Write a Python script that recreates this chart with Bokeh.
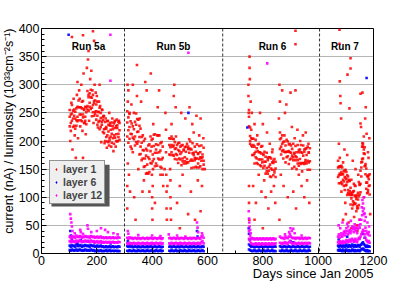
import numpy as np
from bokeh.plotting import figure
from bokeh.models import Range1d, FixedTicker, Legend, LegendItem, Span, BoxAnnotation, Title
from bokeh.core.properties import value
from bokeh.embed import file_html
from bokeh.resources import INLINE

# ------------------------------------------------------------------ data
day_5a = [102,106,110,114,118,122,126,130,134,138,142,146,150,154,158,162,166,170,174,178,182,186,190,194,198,202,206,210,214,218,222,226,230,234,238,242,246,250,254,258,262,266,270,274,278,282]
day_5b1 = [310,314,318,322,326,330,334,338,342,346,350,354,358,362,366,370,374,378,382,386,390,394,398,402,406,410,414,418,422,426,430,434,438]
day_5b2 = [462,466,470,474,478,482,486,490,494,498,502,506,510,514,518,522,526,530,534,538,542,546,550,554,558,562,566,570,574,578,582,586]
day_61 = [750,754,758,762,766,770,774,778,782,786,790,794,798,802,806,810,814,818,822,826,830,834,838,842,846]
day_62 = [862,866,870,874,878,882,886,890,894,898,902,906,910,914,918,922,926,930,934,938,942,946,950,954,958,962,966,970]
day_7 = [1072,1075,1078,1081,1084,1087,1090,1093,1096,1099,1102,1105,1108,1111,1114,1117,1120,1123,1126,1129,1132,1135,1138,1141,1144,1147,1150,1153,1156,1159,1162,1165,1168,1171,1174,1177,1180,1183,1186]

# layer 1 (red) dense band, three samples per day (lower / middle / upper)
r5a_lo = [226,218,236,225,227,222,227,235,237,247,237,235,242,232,236,230,256,254,261,257,244,251,245,248,238,229,234,221,225,229,216,214,200,207,199,198,201,208,197,205,195,206,200,199,207,202]
r5a_mid = [243,232,249,240,245,240,237,243,260,260,247,258,247,255,243,251,262,278,268,278,259,264,267,252,253,245,251,236,241,234,237,221,222,222,210,217,205,220,213,221,210,223,212,223,213,219]
r5a_hi = [255,247,264,254,256,252,258,261,272,275,260,270,271,257,261,260,289,282,285,291,277,282,271,272,265,270,252,259,250,256,242,244,234,225,235,229,228,227,233,226,231,236,226,228,234,232]
r5b1_lo = [208,197,204,190,186,180,203,192,198,195,199,176,177,166,169,154,155,142,143,142,145,161,160,164,168,155,160,156,169,167,154,152,140]
r5b1_mid = [233,219,225,213,212,206,221,208,229,216,217,207,190,197,184,183,169,174,158,171,168,182,190,176,191,179,185,179,193,180,183,167,170]
r5b1_hi = [253,242,248,235,231,226,250,234,249,239,238,227,222,207,210,200,204,186,183,192,194,208,202,204,211,212,194,210,210,210,196,198,190]
r5b2_lo = [176,175,180,175,174,168,177,167,161,169,167,157,164,160,164,160,162,162,179,165,152,165,153,166,154,153,160,153,155,165,150,158]
r5b2_mid = [193,189,193,190,192,186,187,175,184,182,177,180,169,183,171,181,168,186,186,186,167,178,175,170,169,169,177,168,171,170,171,165]
r5b2_hi = [205,204,208,204,203,198,208,193,196,197,190,192,193,185,189,190,195,190,203,199,185,196,179,190,181,194,178,191,180,192,176,188]
r61_lo = [226,195,192,175,175,160,171,161,159,167,157,155,162,152,156,142,146,142,147,137,136,149,139,144,136]
r61_mid = [243,209,205,190,193,178,181,169,182,180,167,178,167,175,163,163,152,166,154,158,151,162,161,148,151]
r61_hi = [255,224,220,204,204,190,202,187,194,195,180,190,191,177,181,172,179,170,171,171,169,180,165,168,163]
r62_lo = [186,176,182,169,181,162,171,173,159,167,169,151,166,154,166,150,160,156,161,159,146,161,159,162,160,149,162,149]
r62_mid = [203,190,195,184,199,180,181,181,182,180,179,174,171,177,173,171,166,180,168,180,161,174,181,166,175,165,179,164]
r62_hi = [215,205,210,198,210,192,202,199,194,195,192,186,195,179,191,180,193,184,185,193,179,192,185,186,187,190,180,187]
r7_lo = [136,125,142,125,127,123,131,120,113,121,122,104,108,106,104,87,98,80,86,90,88,89,75,80,81,86,105,109,137,163,169,178,155,141,115,107,109,120,105]
r7_mid = [153,139,155,140,145,141,141,128,136,134,132,127,113,129,111,108,104,104,93,111,103,102,97,84,96,102,122,124,153,168,190,185,177,156,126,126,113,132,121]
r7_hi = [165,154,170,154,156,153,162,146,148,149,145,139,137,131,129,117,131,108,110,124,121,120,101,104,108,127,123,147,162,190,195,208,189,159,151,138,136,139,141]

# layer 1 (red) scattered points
r_out_day = [104,108,112,116,120,124,128,132,136,140,144,148,152,156,160,164,168,172,176,180,184,188,192,196,200,204,208,212,216,220,224,228,232,236,240,244,248,252,256,260,264,268,272,276,280,110,130,150,170,190,210,150,186,120,245,
             310,310,311,312,312,314,316,318,320,325,330,335,340,345,350,355,360,365,370,380,390,399,400,400,401,402,403,404,410,420,430,440,445,448,450,450,451,452,452,453,455,465,466,466,467,468,470,478,480,485,490,500,505,510,520,530,540,545,550,555,560,565,570,575,580,585,590,395,375,345,425,535,575,500,
             748,748,749,750,750,751,752,752,753,754,756,760,765,770,775,780,785,790,795,800,805,810,815,820,825,830,835,840,845,858,860,862,865,870,875,880,885,890,918,900,905,910,915,920,925,930,935,940,945,950,955,960,965,968,918,918,860,770,800,
             1077,1077,1078,1080,1081,1083,1106,1113,1117,1117,1153,1153,1160,1160,1170,1175,1180,1185,1090,1100,1110,1120,1130,1140,1150,1165,1188,1075,1095,1105,1125,1135,1145,1155,1172,1182,1084,1098,1142]
r_out_val = [200,268,185,275,210,170,282,205,290,226,300,218,320,232,212,330,345,236,310,325,290,232,300,286,280,224,270,262,198,255,245,196,240,188,236,192,232,190,240,182,234,190,238,200,236,385,305,388,360,378,300,170,395,160,250,
             120,80,300,270,160,290,140,250,110,265,300,100,60,280,150,240,270,110,130,290,110,140,100,80,60,120,150,230,90,260,140,120,150,250,220,180,140,110,80,60,120,150,130,100,80,60,230,280,300,260,90,120,250,140,240,70,110,230,215,60,245,130,210,75,120,205,150,320,305,335,290,260,240,45,
             300,280,250,120,90,60,330,350,310,200,270,250,120,230,90,210,140,250,110,230,130,100,215,80,195,110,185,120,90,240,60,270,140,290,120,250,265,100,396,286,225,110,205,80,220,140,200,120,210,100,215,130,195,90,372,290,300,60,45,
             398,373,306,280,267,240,318,258,347,329,284,231,286,196,240,213,180,205,60,70,55,45,65,50,60,100,70,195,185,175,165,150,140,225,260,170,110,90,40]

# layer 6 (blue) band: upper / lower values
b5a_hi = [14,12,15,13,14,12,16,14,13,15,14,12,14,13,15,14,13,14,12,15,14,13,14,12,13,14,12,13,14,12,13,11,12,13,11,12,13,11,12,13,11,12,12,11,13,12]
b5a_lo = [6,5,7,6,5,6,7,5,6,7,6,5,6,5,7,6,5,6,5,7,6,5,6,4,5,6,4,5,6,4,5,4,5,6,4,5,6,4,5,5,4,5,5,4,5,4]
b5b1_hi = [13,12,14,12,13,11,12,13,12,11,13,12,11,12,13,12,11,12,13,11,12,13,12,11,12,13,12,11,12,13,12,11,12]
b5b1_lo = [5,4,6,5,4,5,6,4,5,4,6,5,4,5,6,4,5,4,6,5,4,5,6,4,5,4,6,5,4,5,6,4,5]
b5b2_hi = [12,13,11,12,13,12,11,12,13,11,12,13,12,11,12,13,12,11,12,13,11,12,13,12,11,12,13,12,11,12,13,12]
b5b2_lo = [5,4,6,5,4,5,6,4,5,4,6,5,4,5,6,4,5,4,6,5,4,5,6,4,5,4,6,5,4,5,6,4]
b61_hi = [16,14,12,13,12,11,12,13,12,11,12,13,12,11,12,13,12,11,12,13,12,11,12,13,12]
b61_lo = [7,6,5,4,5,6,4,5,4,6,5,4,5,6,4,5,4,6,5,4,5,6,4,5,4]
b62_hi = [13,12,11,12,13,12,11,12,13,12,11,12,13,12,11,12,13,12,11,12,13,12,11,12,13,12,11,12]
b62_lo = [5,4,6,5,4,5,6,4,5,4,6,5,4,5,6,4,5,4,6,5,4,5,6,4,5,4,6,5]
b7_hi = [14,12,15,13,14,12,15,13,12,14,16,13,12,15,14,12,13,16,14,12,15,14,12,13,15,14,12,15,16,18,20,17,15,13,12,14,12,13,12]
b7_lo = [6,5,7,5,6,4,7,5,4,6,7,5,4,6,5,4,5,7,6,4,6,5,4,5,6,5,4,6,7,8,9,7,6,5,4,6,4,5,4]
b_out_day = [104,106,110,142,168,215,130,190,250,98, 312,562,564,400,500,531, 749,750,752,900,910,744, 1074,1105,1130,1162,1168,1175]
b_out_val = [40,32,25,24,22,20,18,20,18,389, 22,40,30,18,18,250, 45,35,25,22,20,224, 25,30,22,35,28,312]

# layer 12 (magenta) band: upper / lower values
m5a_hi = [30,28,31,29,30,28,32,30,29,31,30,28,30,29,31,30,29,30,28,31,30,29,30,28,29,30,28,29,30,28,29,27,28,29,27,28,29,27,28,29,27,28,28,27,29,28]
m5a_lo = [22,20,23,21,22,20,23,21,22,23,22,20,22,21,23,22,21,22,20,23,22,21,22,19,21,22,19,21,22,19,21,19,20,21,19,20,21,19,20,21,19,20,20,19,21,20]
m5b1_hi = [28,26,29,27,28,26,27,28,27,26,28,27,26,27,28,27,26,27,28,26,27,28,27,26,27,28,27,26,27,28,27,26,27]
m5b1_lo = [18,17,19,18,17,18,19,17,18,17,19,18,17,18,19,17,18,17,19,18,17,18,19,17,18,17,19,18,17,18,19,17,18]
m5b2_hi = [27,28,26,27,28,27,26,27,28,26,27,28,27,26,27,28,27,26,27,28,26,27,28,27,26,27,28,27,26,30,32,28]
m5b2_lo = [18,17,19,18,17,18,19,17,18,17,19,18,17,18,19,17,18,17,19,18,17,18,19,17,18,17,19,18,17,20,22,18]
m61_hi = [40,32,28,26,27,25,26,27,25,26,27,25,26,27,25,26,27,25,26,27,25,26,27,25,26]
m61_lo = [26,22,18,17,16,17,18,16,17,18,16,17,18,16,17,18,16,17,18,16,17,18,16,17,18]
m62_hi = [30,28,27,28,26,30,28,27,30,34,30,28,27,28,26,28,27,28,26,27,28,26,27,28,26,27,28,27]
m62_lo = [19,18,17,19,18,20,18,17,20,22,19,18,17,19,18,17,18,19,17,18,19,17,18,19,17,18,19,18]
m7_hi = [30,34,28,32,36,30,34,38,32,36,45,40,34,38,42,36,40,48,44,38,42,46,40,36,44,50,46,52,60,68,75,70,58,46,40,36,34,38,32]
m7_lo = [20,18,22,19,21,18,22,20,19,21,24,22,20,23,25,21,23,26,24,21,24,26,22,20,25,28,26,30,34,38,42,40,34,28,24,22,20,22,19]
m_out_day = [104,106,108,110,112,140,142,166,168,200,215,230,240,120,150,180,260,275,249,249,
             312,314,400,460,520,562,564,566,580,350,430,490,531,
             749,750,751,752,754,756,895,900,905,910,915,880,940,816,
             1074,1080,1088,1096,1105,1108,1118,1129,1132,1140,1150,1158,1162,1165,1168,1172,1178,1184,1160,1166]
m_out_val = [70,62,55,48,40,42,38,50,44,40,45,42,38,36,35,38,36,34,389,307,
             40,35,32,34,30,55,46,38,36,33,31,32,357,
             75,62,55,48,42,36,38,45,40,44,36,34,32,338,
             50,45,55,40,53,48,58,47,52,45,60,82,89,80,71,65,55,48,95,100]

run_bounds = [300, 655, 1005]
run_names = ["Run 5a", "Run 5b", "Run 6", "Run 7"]
run_label_day = [170, 477, 835, 1097]
run_label_val = 368
x_ticks = [0, 200, 400, 600, 800, 1000, 1200]
x_minor = [100, 300, 500, 700, 900, 1100]
y_ticks = [0, 50, 100, 150, 200, 250, 300, 350, 400]
y_minor = [v for v in range(0, 401, 10) if v % 50]
grid_vals = [50, 100, 150, 200, 250, 300, 350]
legend_names = ["layer 1", "layer 6", "layer 12"]
colors = ["#ff0000", "#0000ff", "#ff00ff"]
x_title = "Days since Jan 2005"
y_title = "current (nA) / luminosity (10\u00b3\u00b3cm\u207b\u00b2s\u207b\u00b9)"


def collect(pairs, extra_x, extra_y):
    xs, ys = [], []
    for days, rows in pairs:
        for r in rows:
            xs += list(days)
            ys += list(r)
    return xs + list(extra_x), ys + list(extra_y)


red_x, red_y = collect([(day_5a, [r5a_lo, r5a_mid, r5a_hi]),
                        (day_5b1, [r5b1_lo, r5b1_mid, r5b1_hi]),
                        (day_5b2, [r5b2_lo, r5b2_mid, r5b2_hi]),
                        (day_61, [r61_lo, r61_mid, r61_hi]),
                        (day_62, [r62_lo, r62_mid, r62_hi]),
                        (day_7, [r7_lo, r7_mid, r7_hi])], r_out_day, r_out_val)
blue_x, blue_y = collect([(day_5a, [b5a_hi, b5a_lo]), (day_5b1, [b5b1_hi, b5b1_lo]),
                          (day_5b2, [b5b2_hi, b5b2_lo]), (day_61, [b61_hi, b61_lo]),
                          (day_62, [b62_hi, b62_lo]), (day_7, [b7_hi, b7_lo])], b_out_day, b_out_val)
mag_x, mag_y = collect([(day_5a, [m5a_hi, m5a_lo]), (day_5b1, [m5b1_hi, m5b1_lo]),
                        (day_5b2, [m5b2_hi, m5b2_lo]), (day_61, [m61_hi, m61_lo]),
                        (day_62, [m62_hi, m62_lo]), (day_7, [m7_hi, m7_lo])], m_out_day, m_out_val)

# ------------------------------------------------------------------ figure
FONT = "Liberation Sans"
p = figure(width=415, height=281, x_range=Range1d(0, 1200), y_range=Range1d(0, 400),
           output_backend="svg", toolbar_location=None,
           min_border_left=41, min_border_right=42, min_border_top=28, min_border_bottom=28)
p.background_fill_color = "white"
p.border_fill_color = "white"
p.outline_line_color = "black"
p.outline_line_width = 1

p.xgrid.visible = False
p.ygrid.ticker = FixedTicker(ticks=grid_vals)
p.ygrid.grid_line_color = "#6a6a6a"
p.ygrid.grid_line_dash = "1 1"

for ax in (p.xaxis[0], p.yaxis[0]):
    ax.axis_line_color = "black"
    ax.major_tick_line_color = "black"
    ax.minor_tick_line_color = "black"
    ax.major_tick_out = 0
    ax.minor_tick_out = 0
    ax.major_label_text_font = FONT
    ax.major_label_text_font_size = "12.5px"
    ax.major_label_text_color = "black"
p.xaxis.ticker = FixedTicker(ticks=x_ticks, minor_ticks=x_minor)
p.yaxis.ticker = FixedTicker(ticks=y_ticks, minor_ticks=y_minor)
p.xaxis.major_tick_in = 6
p.xaxis.minor_tick_in = 3
p.yaxis.major_tick_in = 5
p.yaxis.minor_tick_in = 3
p.xaxis.major_label_standoff = 2
p.yaxis.major_label_standoff = 2

# axis titles, aligned to the far end of each axis
p.add_layout(Title(text=x_title, align="right", text_font=FONT, text_font_size="13px",
                   text_font_style="normal", text_color="black", standoff=-7), "below")
p.add_layout(Title(text=y_title, align="right", text_font=FONT, text_font_size="12.5px",
                   text_font_style="normal", text_color="black", standoff=-1), "left")

for d in run_bounds:
    p.add_layout(Span(location=d, dimension="height", line_color="#333333",
                      line_dash="3 2", line_width=1))

p.scatter(red_x, red_y, marker="square", size=2.6, color=colors[0], line_color=None, alpha=0.85)
p.scatter(blue_x, blue_y, marker="square", size=2.6, color=colors[1], line_color=None, alpha=0.9)
p.scatter(mag_x, mag_y, marker="square", size=2.6, color=colors[2], line_color=None, alpha=0.9)

p.text(x=run_label_day, y=[run_label_val] * len(run_label_day), text=run_names,
       text_align="center", text_baseline="middle", text_font=value(FONT),
       text_font_style="bold", text_font_size="10px", text_color="black")

# legend shadow, then the legend itself (marker renderers that hold no visible point)
p.add_layout(BoxAnnotation(left=36, right=246, top=158, bottom=83.6, fill_color="#555555",
                           fill_alpha=1.0, line_color=None))
dummies = [p.scatter(x=[np.nan], y=[np.nan], marker="diamond", size=7, color=c, line_color=None)
           for c in colors]
legend = Legend(items=[LegendItem(label=n, renderers=[r]) for n, r in zip(legend_names, dummies)],
                location=(8, 49), orientation="vertical",
                background_fill_color="#efefef", background_fill_alpha=1.0,
                border_line_color="#333333", border_line_width=1,
                label_text_font=FONT, label_text_font_style="bold", label_text_font_size="10.5px",
                label_height=12, glyph_height=12, glyph_width=8, spacing=1, padding=2,
                margin=0, label_standoff=3)
p.add_layout(legend, "center")

open("out.html", "w").write(file_html(p, INLINE))
